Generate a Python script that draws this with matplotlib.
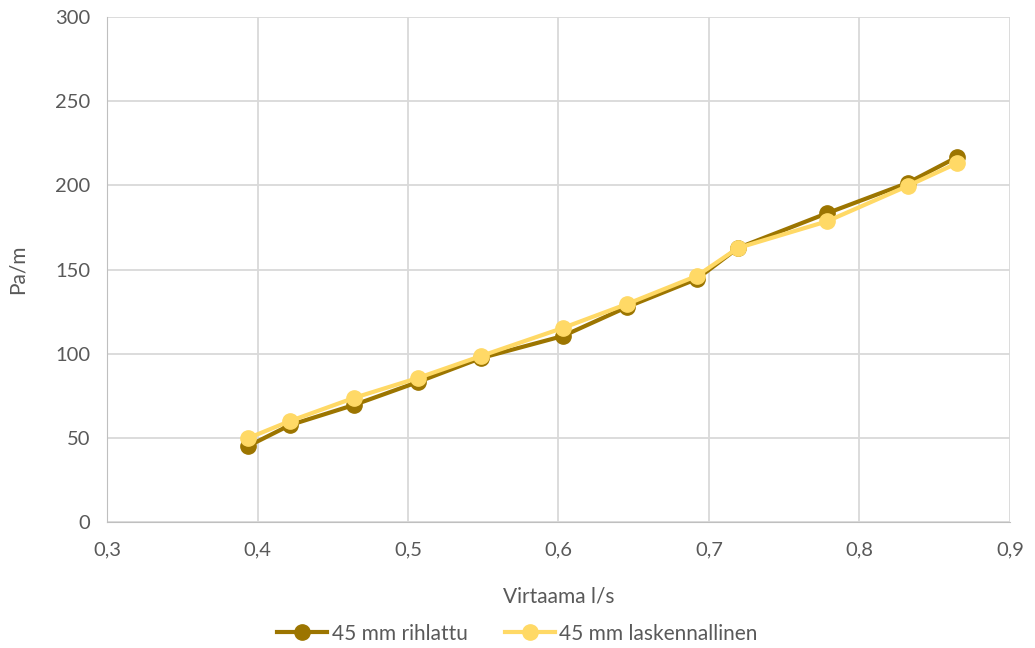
import matplotlib.pyplot as plt

plt.rcParams['font.family'] = ['Lato', 'DejaVu Sans']

virtaama = [0.394, 0.4216, 0.464, 0.5067, 0.5485, 0.603, 0.6455, 0.692, 0.7193, 0.7784, 0.832, 0.8645]
rihlattu = [45.2, 57.6, 69.5, 83.2, 97.4, 110.5, 127.7, 144.4, 162.8, 183.4, 201.4, 216.6]
laskennallinen = [49.9, 60.0, 73.7, 85.6, 98.6, 115.3, 129.5, 146.2, 162.8, 178.6, 199.6, 213.0]

fig = plt.figure(figsize=(10.35, 6.48), dpi=100)
ax = fig.add_axes([0.1034, 0.1944, 0.8724, 0.7794])

ax.plot(virtaama, rihlattu, color='#9C7500', lw=3, marker='o', ms=11,
        label='45 mm rihlattu', zorder=3)
ax.plot(virtaama, laskennallinen, color='#FFD966', lw=3, marker='o', ms=11,
        label='45 mm laskennallinen', zorder=4)

ax.set_xlim(0.3, 0.9)
ax.set_ylim(0, 300)
ax.set_xticks([0.3, 0.4, 0.5, 0.6, 0.7, 0.8, 0.9])
ax.set_xticklabels(['0,3', '0,4', '0,5', '0,6', '0,7', '0,8', '0,9'])
ax.set_yticks(range(0, 301, 50))
ax.grid(True, color='#D9D9D9', lw=1.3)
ax.set_axisbelow(True)
for s in ['top', 'right']:
    ax.spines[s].set_visible(False)
for s in ['left', 'bottom']:
    ax.spines[s].set_color('#BFBFBF')
ax.tick_params(length=0, labelsize=14.5, colors='#595959')
ax.tick_params(axis='x', pad=14)
ax.tick_params(axis='y', pad=12)
ax.set_xlabel('Virtaama l/s', fontsize=15, color='#595959', labelpad=20)
ax.set_ylabel('Pa/m', fontsize=15, color='#595959', labelpad=20)

fig.legend(loc='lower center', bbox_to_anchor=(0.5, -0.022), ncol=2, frameon=False,
           fontsize=15, labelcolor='#595959', handlelength=2.4, columnspacing=1.8,
           handletextpad=0.2)

fig.savefig('out.png', dpi=100)
